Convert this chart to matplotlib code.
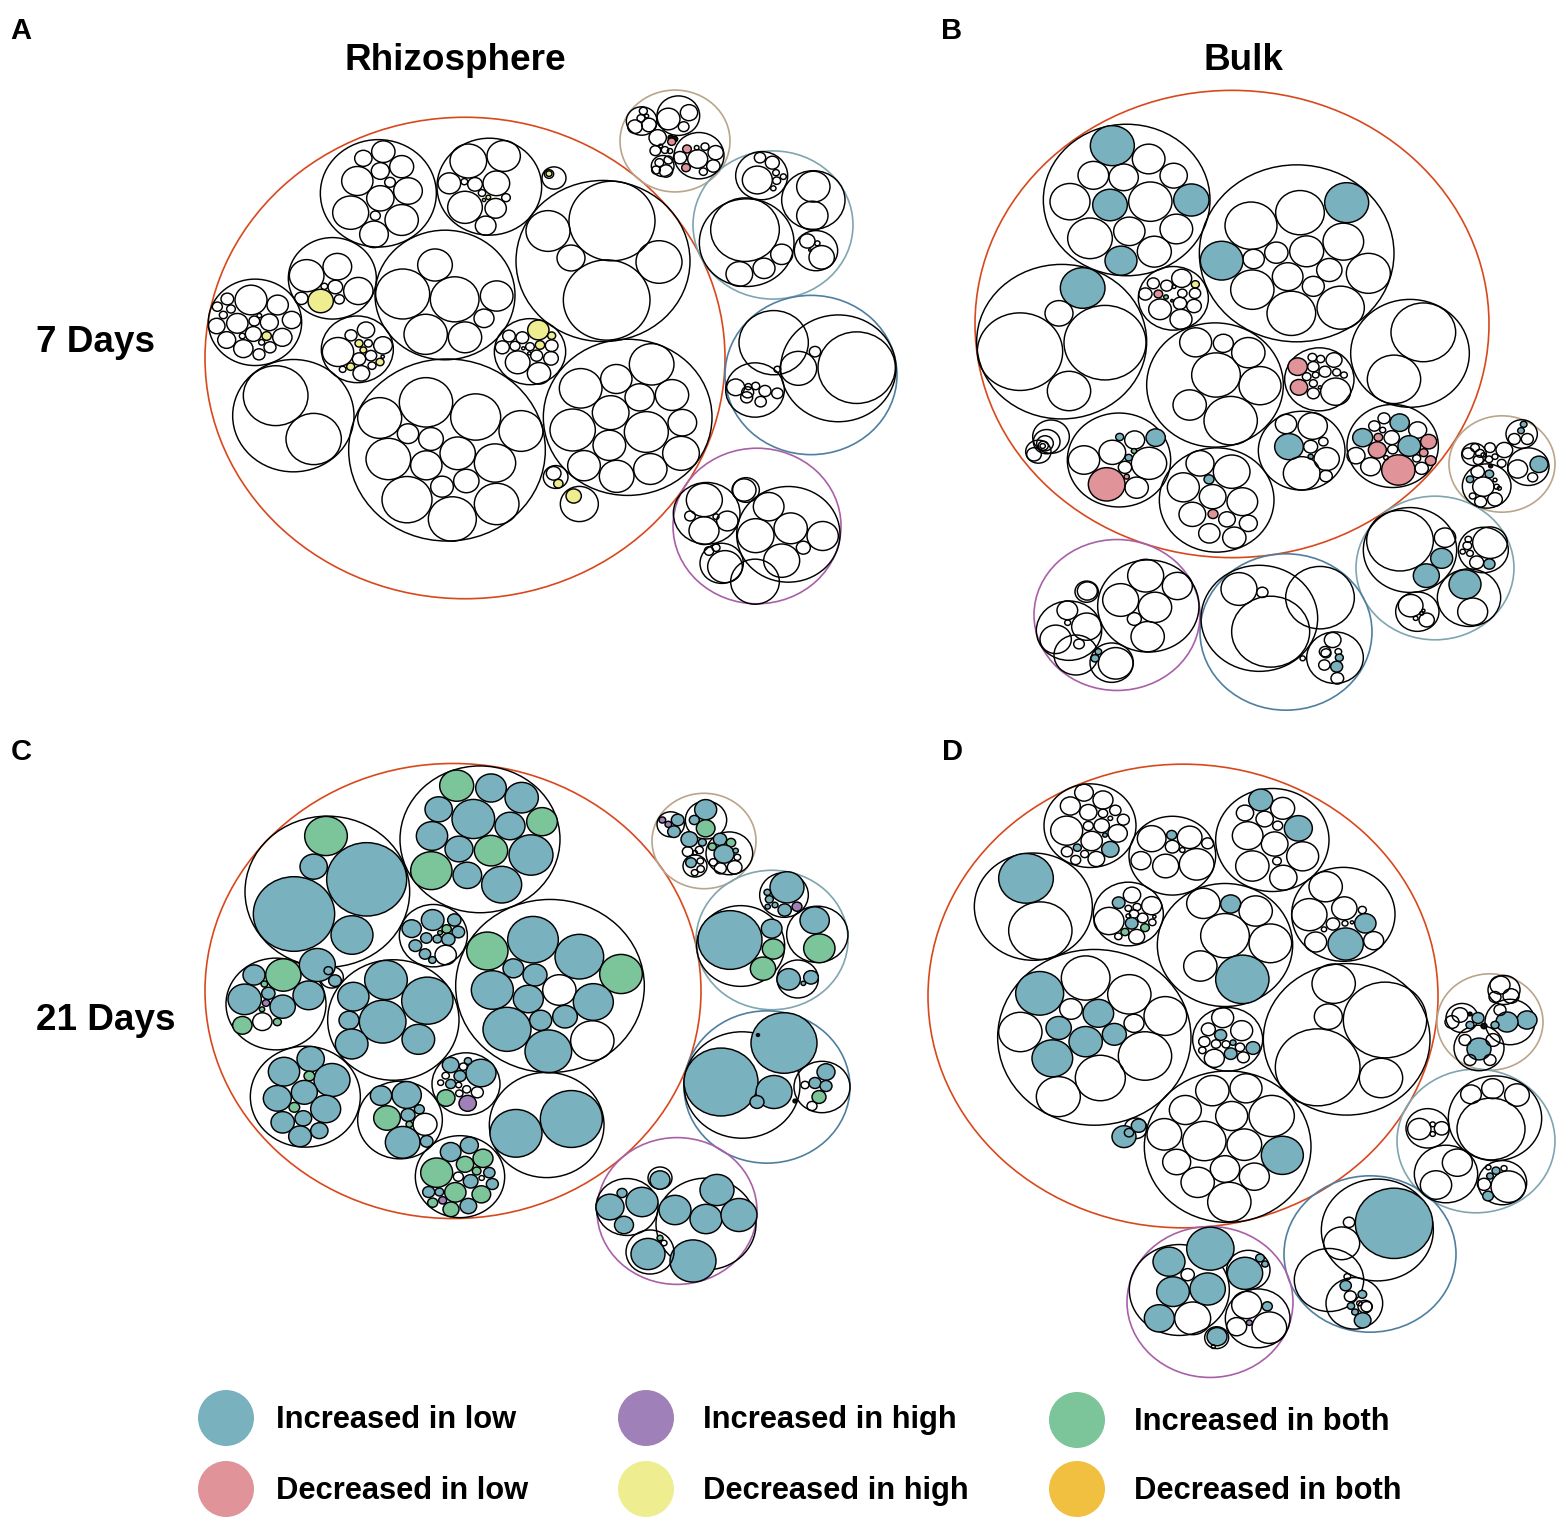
import matplotlib
matplotlib.use("Agg")
import matplotlib.pyplot as plt
from matplotlib.patches import Ellipse, Circle

W, H = 1562, 1521
# the published panels are a bit wider than tall, each by its own factor
STRETCH_A, STRETCH_B, STRETCH_C, STRETCH_D = 1.08, 1.10, 1.09, 1.10

# status codes: '' unchanged, L/l inc/dec in low, H/h inc/dec in high, B/b inc/dec in both
STATUS_COLORS = {"L": "#7ab1bf", "l": "#e0949a", "H": "#a080b8",
                 "h": "#eeee90", "B": "#7cc49a", "b": "#f2c040", "k": "#111111"}
RING_COLORS = {"red": "#d9481c", "tan": "#b9a58a", "teal": "#7fa5b0",
               "blue": "#4f7f9f", "purple": "#a860a8"}

LEGEND_LABELS = ["Increased in low", "Decreased in low", "Increased in high",
                 "Decreased in high", "Increased in both", "Decreased in both"]
LEGEND_STATUS = ["L", "l", "H", "h", "B", "b"]

# ---- circles are (x, y, r[, status]), in crop units (3x)
# panel A
A_RINGS = [(465, 358, 260, "red"), (675, 141, 55, "tan"), (773, 225, 80, "teal"),
           (811, 375, 86, "blue"), (757, 526, 84, "purple")]
A_TOP = [
    (535, 325, 174), (490, 220, 26), (550, 200, 35), (605, 245, 36), (541, 258, 27), (472, 288, 47),
    (570, 292, 16), (624, 318, 43), (541, 340, 41), (452, 383, 54), (605, 405, 50), (526, 392, 15), (522, 448, 43),
    (868, 305, 157), (805, 228, 55), (911, 213, 50), (748, 295, 34), (793, 290, 10), (825, 298, 22),
    (889, 295, 40), (846, 324, 11), (865, 337, 7, "h"), (918, 338, 13), (795, 367, 52), (887, 370, 32),
    (857, 422, 31), (852, 345, 5),
    (1062, 279, 36), (1047, 267, 14), (1047, 266, 9, "h"),
    (397, 580, 132), (320, 572, 52), (412, 545, 43), (362, 648, 38, "h"), (304, 640, 20), (373, 604, 10),
    (406, 606, 22), (418, 643, 15), (475, 618, 44),
    (735, 630, 210), (608, 627, 81), (705, 540, 52), (764, 643, 73), (890, 633, 49), (852, 700, 30),
    (165, 712, 140), (153, 645, 48), (82, 642, 19), (52, 665, 15), (93, 672, 13), (70, 690, 12),
    (233, 660, 32), (275, 705, 28),
]
A_LOW = [
    (50, 78, 25), (112, 70, 32), (163, 63, 16), (208, 67, 27), (178, 47, 7), (127, 108, 9), (160, 102, 24),
    (200, 108, 14, "h"), (247, 112, 29), (80, 120, 27), (130, 146, 29), (185, 127, 9), (210, 142, 18), (177, 163, 18),
    (677, 103, 65), (795, 112, 50),
    (472, 148, 108), (453, 106, 18), (498, 90, 26), (414, 156, 47), (477, 130, 12, "h"), (505, 130, 12),
    (490, 150, 10, "h"), (549, 136, 28), (477, 177, 20), (513, 167, 17), (540, 186, 12, "h"), (548, 170, 5),
    (516, 197, 12), (452, 200, 12, "h"), (428, 208, 10), (484, 220, 25),
    (280, 347, 182), (227, 287, 97), (341, 417, 83),
    (741, 450, 295), (678, 307, 80), (539, 354, 66), (827, 351, 75), (963, 393, 66), (624, 401, 32),
    (693, 417, 37), (773, 460, 53), (885, 489, 62), (565, 477, 67), (679, 496, 47), (726, 560, 34),
    (799, 543, 38), (621, 599, 75), (890, 612, 67), (757, 657, 72),
]
A_RIGHT = [
    (120, 185, 107), (145, 120, 32, "h"), (185, 137, 12, "h"), (57, 138, 19), (97, 143, 19), (37, 172, 21),
    (75, 168, 15), (120, 170, 13), (150, 165, 14, "h"), (185, 167, 19), (100, 175, 5), (83, 217, 37),
    (140, 197, 18), (183, 205, 22), (147, 250, 35), (118, 190, 5),
    (413, 382, 253), (485, 223, 67), (272, 295, 64), (379, 267, 47), (449, 322, 44), (546, 315, 50),
    (362, 368, 55), (248, 420, 68), (469, 426, 66), (577, 398, 43), (358, 466, 49), (282, 527, 49),
    (380, 559, 52), (481, 537, 50), (573, 490, 55),
    (339, -87, 261), (350, 30, 130), (366, -207, 129), (174, -177, 66), (243, -96, 42), (507, -84, 69),
    (197, 561, 37), (191, 550, 22), (205, 581, 14, "h"), (268, 642, 57), (251, 618, 23, "h"),
    (851, 158, 104), (1045, 235, 173), (1100, 233, 116), (925, 235, 55), (975, 185, 17), (862, 238, 10),
    (795, 300, 88), (737, 292, 27), (773, 307, 18), (797, 288, 12), (775, 290, 10), (825, 303, 18),
    (862, 310, 17), (812, 335, 17), (770, 322, 18),
    (650, 670, 100), (643, 630, 54), (600, 678, 16), (642, 722, 45), (678, 680, 9), (712, 693, 32),
    (762, 600, 36), (768, 600, 40),
    (895, 733, 155), (836, 650, 46), (797, 737, 55), (902, 715, 50), (998, 738, 47), (940, 773, 21), (875, 812, 54),
    (695, 820, 65), (705, 830, 52), (657, 783, 14), (678, 773, 12), (795, 875, 73),
]
A_CORNER = [
    (125, 108, 46), (130, 78, 12), (123, 100, 12), (140, 93, 6), (105, 125, 22), (147, 120, 22),
    (235, 92, 64), (205, 102, 35), (267, 83, 26), (251, 125, 16),
    (297, 212, 75), (293, 222, 30), (261, 192, 13, "l"), (258, 248, 13, "l"), (240, 218, 20), (347, 203, 23),
    (340, 243, 20), (310, 260, 12), (315, 185, 12), (290, 188, 7),
    (173, 158, 26), (212, 158, 8, "k"), (224, 162, 9, "k"), (215, 170, 12, "l"), (166, 197, 16), (195, 195, 11),
    (210, 198, 8), (182, 183, 6),
    (188, 243, 34), (178, 233, 13), (205, 225, 13), (198, 258, 20), (168, 255, 13),
    (485, 272, 78), (472, 285, 45), (480, 218, 17), (517, 233, 21), (528, 263, 10), (530, 287, 12),
    (520, 310, 8), (550, 275, 9),
    (640, 345, 95), (640, 305, 50), (637, 392, 47),
    (440, 473, 142), (435, 434, 103), (545, 508, 33), (492, 550, 33), (418, 567, 40),
    (648, 497, 65), (622, 468, 23), (665, 517, 38), (652, 475, 8), (630, 495, 4),
]

# panel B
B_RINGS = [(1232, 324, 257, "red"), (1502, 464, 53, "tan"), (1435, 568, 79, "teal"),
           (1286, 632, 86, "blue"), (1117, 615, 83, "purple")]
B_MAIN = [
    (470, 330, 250), (427, 167, 66, "L"), (536, 207, 49), (370, 256, 46), (461, 262, 44), (611, 257, 41),
    (300, 335, 60), (420, 345, 52, "L"), (541, 335, 65), (664, 330, 53, "L"), (360, 445, 67), (478, 424, 47),
    (619, 417, 49), (553, 485, 51), (453, 512, 48, "L"),
    (980, 490, 292), (1130, 338, 66, "L"), (990, 368, 73), (843, 407, 78), (1120, 455, 61), (1010, 484, 51),
    (919, 488, 35), (851, 507, 32), (755, 512, 64, "L"), (1195, 550, 66), (953, 560, 46), (1078, 540, 38),
    (1030, 589, 33), (847, 599, 65), (964, 670, 73), (1112, 653, 71),
    (275, 755, 255), (338, 594, 67, "L"), (267, 670, 42), (150, 785, 128), (405, 758, 123), (297, 903, 65),
    (610, 625, 105), (635, 565, 30), (676, 583, 12, "h"), (550, 580, 18), (590, 587, 18), (526, 612, 20),
    (565, 612, 13, "l"), (588, 621, 7, "B"), (637, 610, 14), (675, 610, 17), (612, 590, 6), (630, 640, 20),
    (672, 648, 22), (570, 658, 34), (633, 688, 33), (606, 632, 4, "B"),
    (735, 885, 205), (677, 757, 48), (760, 760, 30), (835, 788, 50), (738, 855, 73), (870, 887, 63),
    (659, 945, 50), (782, 992, 80),
    (1048, 868, 104), (983, 830, 29, "l"), (1027, 802, 13), (1052, 807, 12), (1092, 810, 24), (1030, 830, 17),
    (1065, 845, 18), (1100, 847, 12), (1122, 855, 10), (1010, 860, 13), (1037, 855, 10), (1030, 880, 12),
    (987, 892, 26, "l"), (1050, 892, 5), (1030, 910, 18), (1097, 905, 45),
    (1320, 790, 178), (1360, 727, 97), (1272, 868, 80),
    (243, 1040, 55), (230, 1055, 40), (225, 1060, 25), (220, 1067, 15), (218, 1068, 8), (205, 1085, 38), (192, 1093, 22),
    (447, 1110, 155), (449, 1041, 12, "L"), (494, 1050, 30), (557, 1043, 29, "L"), (342, 1110, 47),
    (427, 1087, 40), (537, 1120, 53), (476, 1103, 11, "L"), (465, 1132, 20), (492, 1083, 8, "B"),
    (410, 1183, 55, "l"), (500, 1193, 35), (470, 1160, 8, "l"),
    (740, 1230, 172), (690, 1120, 42), (785, 1145, 55), (717, 1168, 15, "L"), (640, 1192, 48), (728, 1220, 40),
    (817, 1235, 46), (667, 1273, 40), (729, 1272, 15, "l"), (771, 1288, 25), (835, 1300, 27), (718, 1330, 32), (793, 1343, 35),
    (995, 1082, 130), (948, 1002, 32), (1028, 1008, 44), (957, 1070, 43, "L"), (1022, 1070, 21), (1060, 1055, 14),
    (1022, 1100, 8, "L"), (1070, 1107, 38), (995, 1150, 55), (1068, 1158, 19),
    (1268, 1068, 137), (1242, 985, 18), (1289, 998, 29, "L"), (1213, 1008, 17), (1238, 1020, 9), (1343, 1020, 27),
    (1178, 1043, 30, "L"), (1225, 1042, 13, "l"), (1265, 1043, 23), (1318, 1068, 34, "L"), (1376, 1055, 24, "l"),
    (1222, 1080, 27, "l"), (1268, 1078, 15), (1361, 1088, 13, "l"), (1158, 1097, 27), (1340, 1105, 12),
    (1382, 1112, 16, "l"), (1202, 1130, 30), (1285, 1140, 50, "l"), (1355, 1135, 20), (1248, 1103, 7),
]
B_RIGHT = [
    (485, 102, 47), (491, 73, 10, "L"), (483, 92, 10, "L"), (463, 117, 18), (502, 117, 18),
    (505, 200, 62), (537, 193, 27, "L"), (473, 207, 30), (518, 232, 15),
    (342, 163, 37), (345, 143, 13), (360, 160, 13), (325, 160, 18), (355, 180, 15),
    (390, 143, 16), (433, 150, 25), (387, 178, 11), (405, 170, 9), (425, 190, 13), (370, 165, 7), (392, 198, 6, "k"),
    (380, 258, 73), (353, 215, 20), (388, 222, 13, "L"), (330, 238, 11, "L"), (370, 260, 32), (405, 298, 22),
    (362, 305, 18), (338, 288, 10), (410, 260, 8), (418, 265, 6), (405, 240, 6),
    (150, 450, 140), (120, 422, 100), (255, 413, 32), (245, 475, 33, "L"), (199, 527, 39, "L"),
    (370, 450, 75), (390, 428, 52), (325, 418, 10), (322, 437, 13), (308, 455, 8), (330, 460, 10),
    (350, 487, 21), (388, 492, 17, "L"),
    (327, 593, 95), (315, 553, 48, "L"), (338, 635, 45),
    (172, 635, 65), (152, 617, 37), (200, 660, 23), (167, 655, 7), (185, 640, 6), (190, 632, 5),
]
B_BOTTOM = [
    (355, 228, 152), (347, 137, 54), (272, 210, 54), (442, 168, 45), (375, 232, 50), (313, 267, 21), (353, 320, 50),
    (170, 185, 35), (172, 183, 30),
    (117, 302, 98), (112, 241, 31), (170, 290, 45), (113, 278, 9), (77, 328, 47), (147, 342, 16),
    (138, 375, 66), (245, 398, 65), (257, 400, 52), (205, 365, 10, "L"), (195, 385, 12, "L"),
    (688, 265, 175), (627, 177, 54), (697, 187, 17), (722, 305, 117),
    (870, 203, 103), (818, 385, 8),
    (915, 383, 85), (908, 330, 25), (885, 365, 17), (888, 370, 15), (925, 365, 10), (928, 383, 12, "L"),
    (883, 405, 17), (920, 410, 18, "L"), (922, 445, 19),
]

# panel C
C_RINGS = [(453, 991, 248, "red"), (704, 841, 52, "tan"), (772, 940, 76, "teal"),
           (767, 1087, 83, "blue"), (677, 1211, 80, "purple")]
C_MAIN = [
    (840, 238, 240), (770, 77, 51, "B"), (873, 84, 46, "L"), (965, 113, 50, "L"), (716, 148, 41, "L"),
    (820, 177, 64, "L"), (930, 198, 45, "L"), (1026, 185, 46, "B"), (696, 228, 47, "L"), (777, 267, 42, "L"),
    (873, 272, 50, "B"), (993, 285, 66, "L"), (694, 332, 62, "B"), (802, 346, 43, "L"), (905, 374, 60, "L"),
    (382, 395, 247), (378, 228, 64, "B"), (341, 320, 41, "L"), (500, 358, 120, "L"), (282, 462, 122, "L"), (456, 525, 63, "L"),
    (700, 527, 102), (698, 480, 34, "L"), (763, 480, 20, "L"), (635, 506, 29, "L"), (775, 516, 19, "L"),
    (740, 507, 14, "B"), (720, 518, 7, "B"), (679, 534, 17, "L"), (712, 537, 13, "L"), (745, 538, 20, "L"),
    (646, 557, 19, "L"), (675, 582, 17, "L"), (737, 585, 32), (697, 600, 11, "L"),
    (1050, 678, 283), (999, 539, 76, "L"), (1138, 590, 73, "L"), (862, 573, 62, "B"), (1263, 642, 64, "B"),
    (940, 625, 31, "L"), (1005, 645, 36, "L"), (877, 690, 63, "L"), (1078, 690, 50), (985, 717, 45, "L"),
    (1180, 726, 60, "L"), (921, 808, 72, "L"), (1022, 781, 33, "L"), (1095, 770, 37, "L"), (1177, 842, 65), (1045, 874, 70, "L"),
    (228, 732, 150), (162, 645, 33, "L"), (250, 645, 53, "B"), (193, 672, 10, "B"), (205, 700, 20, "L"),
    (326, 706, 47, "L"), (134, 718, 50, "L"), (198, 729, 11, "H"), (248, 740, 38, "L"), (186, 748, 8, "B"),
    (187, 785, 29), (127, 796, 29, "B"), (232, 786, 12, "B"),
    (395, 652, 35), (352, 615, 54, "L"), (385, 632, 13, "L"), (405, 662, 19, "L"),
    (580, 780, 197), (558, 660, 64, "L"), (682, 722, 77, "L"), (460, 710, 47, "L"), (548, 785, 70, "L"),
    (447, 781, 30, "L"), (655, 838, 49, "L"), (455, 852, 49, "L"),
    (316, 1010, 165), (332, 897, 41, "L"), (252, 935, 47, "L"), (396, 960, 54, "L"), (328, 948, 16, "B"),
    (313, 997, 39, "L"), (232, 1015, 42, "L"), (377, 1047, 45, "L"), (283, 1042, 16, "B"), (248, 1087, 35, "L"),
    (310, 1075, 25, "L"), (358, 1112, 26, "L"), (300, 1129, 34, "L"),
    (600, 1080, 127), (620, 1005, 44, "L"), (543, 1007, 32, "L"), (658, 1048, 15, "L"), (561, 1074, 40, "B"),
    (624, 1065, 21, "L"), (675, 1093, 36), (628, 1093, 10, "B"), (608, 1147, 52, "L"), (680, 1144, 19, "L"),
    (798, 972, 102), (752, 915, 25, "L"), (843, 939, 45, "L"), (804, 903, 11, "L"), (790, 920, 12), (737, 947, 11),
    (780, 948, 18, "L"), (722, 968, 9), (752, 972, 15, "L"), (776, 975, 9), (800, 988, 12), (832, 997, 18),
    (778, 1000, 11), (738, 1014, 27, "B"), (803, 1030, 26, "H"),
    (1040, 1095, 172), (948, 1120, 78, "L"), (1114, 1077, 93, "L"),
    (780, 1250, 134), (808, 1156, 27, "L"), (752, 1176, 31, "L"), (849, 1195, 30, "B"), (795, 1213, 26, "B"),
    (710, 1238, 48, "B"), (830, 1233, 13, "B"), (868, 1238, 17, "L"), (775, 1250, 15), (845, 1254, 8),
    (812, 1264, 22, "L"), (877, 1272, 18, "L"), (686, 1296, 18, "L"), (718, 1296, 13, "L"), (766, 1297, 32, "B"),
    (844, 1303, 28, "B"), (698, 1328, 15, "B"), (728, 1321, 12, "H"), (805, 1338, 25, "L"), (753, 1348, 24, "B"),
]
C_CORNER = [
    (92, 133, 41), (113, 120, 19, "L"), (67, 120, 10, "H"), (85, 133, 10, "H"), (102, 155, 19, "L"),
    (198, 120, 62), (197, 89, 33, "L"), (197, 145, 28, "B"), (163, 120, 15, "L"),
    (148, 178, 25, "L"), (187, 187, 12, "L"), (143, 215, 16), (178, 210, 12), (165, 218, 7),
    (268, 220, 70), (240, 178, 20, "L"), (273, 188, 14, "B"), (217, 200, 12, "B"), (252, 222, 30, "L"),
    (287, 212, 8, "L"), (292, 232, 10), (220, 247, 12), (241, 265, 18), (284, 262, 22),
    (165, 258, 36), (153, 248, 16, "L"), (181, 243, 10), (164, 278, 10), (182, 267, 11),
    (432, 345, 73), (441, 322, 51, "L"), (382, 337, 10, "L"), (388, 358, 12, "L"), (405, 375, 9, "L"),
    (383, 380, 8, "L"), (434, 390, 20, "L"), (471, 380, 15, "H"),
    (302, 498, 132), (270, 480, 96, "L"), (395, 446, 31, "L"), (400, 507, 33, "B"), (369, 566, 38, "B"),
    (532, 463, 92), (524, 421, 44, "L"), (538, 505, 47, "B"),
    (473, 597, 62), (446, 598, 35, "L"), (513, 592, 22, "L"), (490, 610, 7, "L"),
]
# read directly in figure pixels
C_LOWER = [
    (742, 1085, 58), (721, 1082, 37, "L"), (784, 1043, 33, "L"), (774, 1092, 18, "L"), (757, 1102, 7, "L"),
    (758, 1035, 1.5, "k"), (795, 1101, 2, "k"),
    (822, 1087, 28), (826, 1072, 9, "L"), (815, 1083, 6, "L"), (826, 1086, 6, "L"), (819, 1097, 7, "B"),
    (805, 1085, 4), (812, 1106, 5),
    (627, 1207, 31), (622, 1193, 5, "L"), (642, 1202, 16, "L"), (610, 1207, 14, "L"), (624, 1225, 9.5, "L"),
    (660, 1178, 12), (660, 1180, 10, "L"),
    (706, 1224, 50), (717, 1190, 17, "L"), (706, 1219, 16, "L"), (675, 1210, 16, "L"), (739, 1215, 18, "L"), (693, 1261, 23, "L"),
    (650, 1252, 24), (648, 1254, 17, "L"), (660, 1238, 3, "B"), (664, 1243, 3),
]

# panel D
D_RINGS = [(1183, 996, 255, "red"), (1490, 1022, 53, "tan"), (1476, 1141, 79, "teal"),
           (1370, 1254, 86, "blue"), (1210, 1302, 83, "purple")]
D_MAIN = [
    (495, 197, 138), (477, 98, 28), (534, 120, 30), (436, 138, 30), (490, 157, 26), (534, 160, 14), (571, 151, 17),
    (595, 179, 18), (425, 212, 48), (490, 198, 15), (530, 197, 23), (556, 175, 7), (578, 220, 29), (500, 243, 32),
    (540, 225, 7, "L"), (457, 263, 12, "L"), (426, 275, 17), (556, 268, 26, "L"), (479, 282, 12), (452, 300, 15), (514, 297, 25),
    (742, 287, 130), (680, 236, 43), (740, 225, 15, "L"), (794, 232, 37), (742, 260, 21), (848, 250, 18),
    (648, 302, 30), (722, 318, 39), (815, 313, 52), (772, 270, 8),
    (1042, 240, 170), (1007, 120, 36, "L"), (1073, 145, 36), (960, 159, 26), (1019, 177, 26), (1058, 197, 15),
    (1120, 205, 42, "L"), (968, 227, 46), (1049, 252, 40), (1133, 289, 48), (982, 318, 50), (1056, 303, 13), (1075, 353, 41),
    (325, 440, 177), (303, 355, 82, "L"), (346, 512, 95),
    (610, 462, 105), (621, 405, 26), (581, 428, 19, "L"), (680, 437, 30), (636, 441, 12), (610, 445, 10),
    (627, 462, 14), (653, 474, 16), (552, 483, 45), (620, 490, 19, "L"), (660, 503, 13, "B"), (682, 487, 11),
    (600, 516, 12, "B"), (635, 530, 24), (580, 529, 11), (688, 470, 5), (610, 468, 7),
    (900, 555, 203), (835, 430, 50), (917, 432, 30, "L"), (992, 453, 50), (900, 527, 73), (1036, 550, 64),
    (826, 618, 50), (952, 658, 80, "L"),
    (1255, 463, 155), (1202, 380, 50), (1258, 445, 38), (1153, 464, 53), (1312, 450, 12), (1321, 490, 32, "L"),
    (1224, 492, 20), (1260, 490, 9), (1281, 487, 5), (1197, 508, 8), (1172, 546, 33), (1262, 552, 53, "L"), (1346, 542, 30),
    (508, 832, 290), (344, 700, 72, "L"), (482, 654, 73), (613, 703, 65), (721, 768, 64), (438, 747, 34),
    (520, 760, 46, "L"), (401, 804, 38, "L"), (627, 790, 30), (286, 816, 65), (482, 845, 50, "L"),
    (568, 823, 36, "L"), (382, 895, 61, "L"), (660, 888, 80), (526, 954, 75), (400, 1010, 66),
    (908, 838, 105), (893, 773, 33), (850, 808, 21), (950, 812, 33), (887, 825, 18, "L"), (838, 845, 17),
    (873, 852, 14), (903, 853, 12), (924, 848, 9, "L"), (945, 862, 14), (984, 864, 21, "L"), (832, 871, 11),
    (868, 895, 30), (917, 881, 19, "L"), (955, 892, 18),
    (1265, 838, 250), (1226, 671, 65), (1380, 780, 125), (1210, 770, 42), (1178, 922, 127), (1368, 954, 65),
    (908, 1160, 250), (862, 992, 50), (963, 985, 48), (781, 1050, 48), (920, 1068, 48), (1040, 1068, 68),
    (718, 1123, 52), (838, 1143, 65), (958, 1154, 52), (1072, 1186, 63, "L"), (755, 1206, 42), (900, 1227, 44),
    (988, 1250, 45), (818, 1267, 50), (913, 1326, 65),
    (632, 1105, 34), (597, 1130, 36, "L"), (612, 1118, 14, "L"), (641, 1097, 22, "L"),
]
D_LOWER = [
    (178, 690, 150), (271, 566, 71, "L"), (147, 605, 48, "L"), (203, 644, 20), (159, 695, 49, "L"),
    (263, 687, 53, "L"), (118, 775, 45, "L"), (218, 775, 54),
    (385, 630, 65), (375, 640, 53, "L"), (420, 594, 13, "L"), (435, 612, 10, "L"),
    (413, 775, 97), (380, 735, 45), (442, 739, 15, "L"), (448, 803, 52), (350, 800, 30), (388, 788, 9, "H"),
    (290, 833, 36), (291, 830, 30, "L"), (280, 860, 6),
    (772, 510, 168), (822, 490, 116, "L"), (687, 487, 17), (665, 550, 54),
    (627, 660, 104),
    (703, 730, 85), (677, 677, 17, "L"), (727, 703, 13, "L"), (691, 709, 18), (693, 738, 11, "L"), (735, 740, 21),
    (740, 740, 17), (705, 756, 10, "L"), (728, 781, 25, "L"), (682, 650, 10), (718, 730, 8),
    (1125, 175, 140), (1113, 207, 102), (1053, 103, 31), (1118, 86, 33), (1191, 105, 37),
    (923, 205, 65), (898, 207, 35), (965, 205, 22), (938, 222, 8), (938, 193, 8),
    (978, 342, 95), (1012, 308, 45), (948, 375, 47),
    (1147, 368, 73), (1165, 380, 52), (1128, 332, 12, "L"), (1110, 348, 10, "L"), (1152, 325, 9), (1105, 322, 8),
    (1092, 373, 20), (1104, 408, 16, "L"),
]
D_TAN = [
    (1504, 990, 16), (1500, 985, 10), (1511, 996, 8), (1495, 997, 6),
    (1510, 1022, 25), (1527, 1020, 10, "L"), (1507, 1022, 11, "L"), (1500, 1010, 6), (1495, 1025, 4, "L"),
    (1479, 1048, 25), (1479, 1049, 12, "L"), (1465, 1040, 6), (1493, 1040, 7), (1470, 1060, 6), (1490, 1060, 6),
    (1462, 1018, 16), (1478, 1018, 6, "L"), (1460, 1015, 8), (1470, 1025, 4, "L"), (1452, 1022, 7),
    (1484, 1026, 3, "k"), (1470, 1014, 2, "k"),
]

# crop origin (figure px), crop scale and panel stretch for each list
CROPS = [
    (A_TOP, 200, 85, 3, STRETCH_A), (A_LOW, 200, 300, 3, STRETCH_A),
    (A_RIGHT, 490, 290, 3, STRETCH_A), (A_CORNER, 600, 85, 3, STRETCH_A),
    (B_MAIN, 970, 90, 3, STRETCH_B), (B_RIGHT, 1360, 400, 3, STRETCH_B), (B_BOTTOM, 1030, 530, 3, STRETCH_B),
    (C_MAIN, 200, 760, 3, STRETCH_C), (C_CORNER, 640, 780, 3, STRETCH_C), (C_LOWER, 0, 0, 1, STRETCH_C),
    (D_MAIN, 925, 760, 3, STRETCH_D), (D_LOWER, 1120, 1060, 3, STRETCH_D), (D_TAN, 0, 0, 1, STRETCH_D),
]
RING_SETS = [(A_RINGS, STRETCH_A), (B_RINGS, STRETCH_B), (C_RINGS, STRETCH_C), (D_RINGS, STRETCH_D)]

plt.rcParams["font.family"] = ["Liberation Sans", "DejaVu Sans"]
fig = plt.figure(figsize=(W / 100, H / 100), dpi=100)
ax = fig.add_axes([0, 0, 1, 1])
ax.set_xlim(0, W)
ax.set_ylim(H, 0)
ax.axis("off")


def add_oval(x, y, r, stretch, face, edge, lw):
    ax.add_patch(Ellipse((x, y), 2 * r, 2 * r / stretch, facecolor=face, edgecolor=edge, linewidth=lw))


for rings, stretch in RING_SETS:
    for x, y, r, name in rings:
        add_oval(x, y, r, stretch, "none", RING_COLORS[name], 1.2)

for circles, ox, oy, scale, stretch in CROPS:
    for c in circles:
        status = c[3] if len(c) > 3 else ""
        face = STATUS_COLORS.get(status, "none")
        add_oval(ox + c[0] / scale, oy + c[1] / scale, c[2] / scale, stretch, face, "black", 1.05)

# legend
legend_x = [226, 226, 646, 646, 1077, 1077]
legend_y = [1418, 1489, 1418, 1489, 1420, 1489]
text_x = [276, 276, 703, 703, 1134, 1134]
for s, lab, lx, ly, tx in zip(LEGEND_STATUS, LEGEND_LABELS, legend_x, legend_y, text_x):
    ax.add_patch(Circle((lx, ly), 28, facecolor=STATUS_COLORS[s], edgecolor="none"))
    ax.text(tx, ly + 2, lab, fontsize=22.2, fontweight="bold", va="center", ha="left")

# headings
ax.text(455, 60, "Rhizosphere", fontsize=26.6, fontweight="bold", ha="center", va="center")
ax.text(1243, 60, "Bulk", fontsize=26.6, fontweight="bold", ha="center", va="center")
ax.text(36, 343, "7 Days", fontsize=26.6, fontweight="bold", ha="left", va="center")
ax.text(36, 1021, "21 Days", fontsize=26.6, fontweight="bold", ha="left", va="center")
for lab, tx, ty in [("A", 21, 31), ("B", 952, 31), ("C", 21, 752), ("D", 952, 752)]:
    ax.text(tx, ty, lab, fontsize=21, fontweight="bold", ha="center", va="center")

fig.savefig("out.png", dpi=100)
plt.close(fig)
